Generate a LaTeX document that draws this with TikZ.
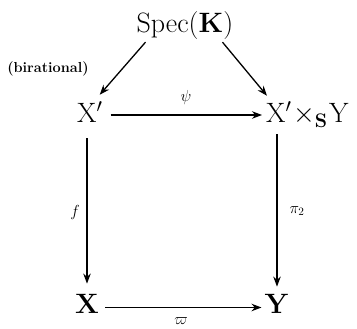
\RequirePackage{fix-cm}
\documentclass[tikz,border=0pt]{standalone}
\usetikzlibrary{arrows.meta}
\begin{document}
\begin{tikzpicture}[x=1pt,y=-1pt,
  big/.style={font=\fontsize{28}{30}\selectfont, inner sep=0pt},
  lab/.style={font=\fontsize{16}{18}\selectfont, inner sep=0pt},
  arr/.style={-{Stealth[length=10pt,width=7.5pt]}, line width=1.3pt}]
\useasboundingbox (0,0) rectangle (357,329);
\node[big, anchor=base] (spec) at (185,33) {$\mathrm{Spec}(\mathbf{K})$};
\node[big, anchor=base west] (xp) at (77,123) {$\mathrm{X}'$};
\node[big, anchor=base west] (fib) at (266,123) {$\mathrm{X}'\!\times_{\mathbf{S}}\!\mathrm{Y}$};
\node[big, anchor=base] (x) at (87,313) {$\mathbf{X}$};
\node[big, anchor=base] (y) at (277,313) {$\mathbf{Y}$};
\node[lab, font=\bfseries\fontsize{14.5}{16}\selectfont] (bir) at (48,69) {(birational)};
\node[lab] (psi) at (186,98) {$\psi$};
\node[lab] (f) at (75,213) {$f$};
\node[lab] (pi) at (297,211) {$\pi_2$};
\node[lab] (w) at (181,321) {$\varpi$};
\draw[arr] ([xshift=9pt,yshift=-2pt]spec.south west) -- ([xshift=-3pt,yshift=7pt]xp.north east);
\draw[arr] ([xshift=-11pt,yshift=-2pt]spec.south east) -- ([xshift=1pt,yshift=6pt]fib.north west);
\draw[arr] ([xshift=8pt,yshift=8pt]xp.base east) -- ([xshift=-4pt,yshift=8pt]fib.base west);
\draw[arr] ([yshift=-15pt]xp.south -| x.north) -- ([yshift=10pt]x.north);
\draw[arr] ([yshift=-7pt]fib.south -| y.north) -- ([yshift=7pt]y.north);
\draw[arr] ([xshift=6pt,yshift=5.5pt]x.base east) -- ([xshift=-3pt,yshift=5.5pt]y.base west);
\end{tikzpicture}
\end{document}
